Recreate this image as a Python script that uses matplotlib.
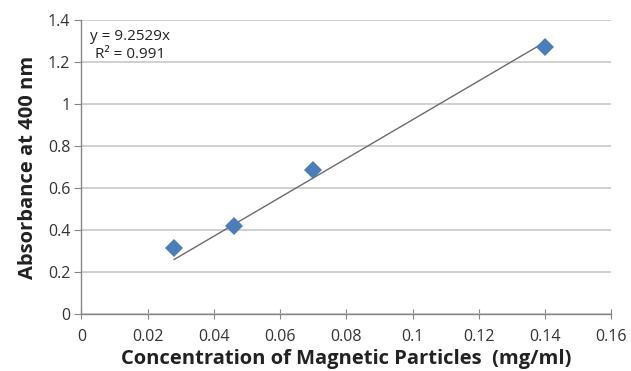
import numpy as np
import matplotlib.pyplot as plt

plt.rcParams['font.family'] = ['Open Sans', 'DejaVu Sans']

# donnees
conc = [0.028, 0.046, 0.070, 0.140]
absorb = [0.315, 0.42, 0.684, 1.272]
pente = 9.2529
r2 = 0.991

x_ticks = [0, 0.02, 0.04, 0.06, 0.08, 0.1, 0.12, 0.14, 0.16]
x_labels = ["0", "0.02", "0.04", "0.06", "0.08", "0.1", "0.12", "0.14", "0.16"]
y_ticks = [0, 0.2, 0.4, 0.6, 0.8, 1, 1.2, 1.4]
y_labels = ["0", "0.2", "0.4", "0.6", "0.8", "1", "1.2", "1.4"]

fig = plt.figure(figsize=(6.31, 3.71), dpi=100)
ax = fig.add_axes([0.129, 0.154, 0.840, 0.792])

# grille horizontale
ax.set_axisbelow(True)
ax.grid(axis='y', color='#c8c8c8', linewidth=1.2)

# droite de tendance (passe par l'origine)
xt = np.array([min(conc), max(conc)])
ax.plot(xt, pente * xt, color='#6b6b6b', linewidth=1.0, zorder=2)

ax.plot(conc, absorb, 'D', color='#4a7ebb', markersize=9, markeredgewidth=0, zorder=3)

ax.set_xlim(0, 0.16)
ax.set_ylim(0, 1.4)
ax.set_xticks(x_ticks)
ax.set_xticklabels(x_labels)
ax.set_yticks(y_ticks)
ax.set_yticklabels(y_labels)

for s in ['top', 'right']:
    ax.spines[s].set_visible(False)
for s in ['left', 'bottom']:
    ax.spines[s].set_color('#868686')
    ax.spines[s].set_linewidth(1.0)

ax.tick_params(axis='x', direction='inout', length=7, color='#868686', labelsize=11.5, labelcolor='#333333', pad=7.5)
ax.tick_params(axis='y', direction='out', length=5, color='#868686', labelsize=11.5, labelcolor='#333333', pad=3)

ax.set_xlabel("Concentration of Magnetic Particles  (mg/ml)", fontsize=14.5, fontweight='bold', color='#222222', labelpad=3)
ax.set_ylabel("Absorbance at 400 nm", fontsize=14.5, fontweight='bold', color='#222222', labelpad=7)

ax.text(0.0025, 1.307, "y = %.4fx" % pente, fontsize=11, color='#222222', va='baseline', ha='left')
ax.text(0.004, 1.221, "R² = %.3f" % r2, fontsize=11, color='#222222', va='baseline', ha='left')

plt.savefig("out.png", dpi=100)
